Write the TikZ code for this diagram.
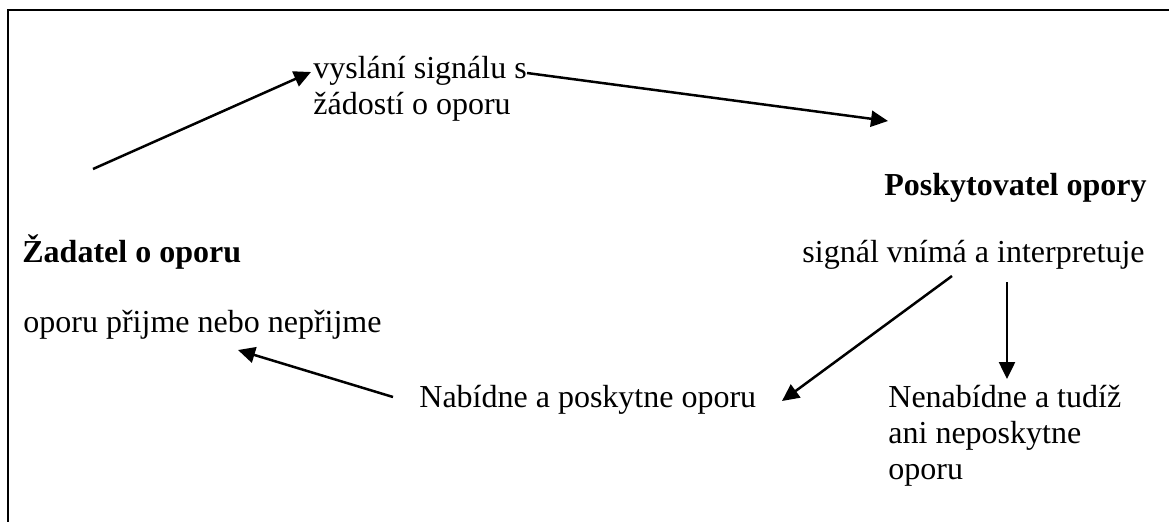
\documentclass[tikz,border=0pt]{standalone}
\usepackage{fontspec}
\setmainfont{Liberation Serif}
\usetikzlibrary{arrows.meta}
\begin{document}
\begin{tikzpicture}[x=0.5pt,y=-0.5pt,
  label text/.style={inner sep=0pt,anchor=base west,align=left,
    font=\fontsize{16pt}{18pt}\selectfont},
  head text/.style={label text,font=\fontsize{16pt}{18pt}\selectfont\bfseries},
  flow/.style={line width=1.25pt,-{Triangle[length=8.5pt,width=8pt]}},
  frame/.style={line width=1.25pt}]
\useasboundingbox (0,0) rectangle (1169,521);
% open frame round the scheme
\draw[frame] (8,540) -- (8,10) -- (1190,10);

% texts (base anchor of a multi-line node sits on its last line)
\node[label text] (signal) at (313,114) {vyslání signálu s\\žádostí o oporu};
\node[head text,anchor=base east] (provider) at (1147,195) {Poskytovatel opory};
\node[head text] (seeker) at (22,262) {Žadatel o oporu};
\node[label text,anchor=base east] (perceive) at (1145,262) {signál vnímá a interpretuje};
\node[label text] (accept) at (23,332) {oporu přijme nebo nepřijme};
\node[label text] (offer) at (419,407) {Nabídne a poskytne oporu};
\node[label text] (refuse) at (888,479) {Nenabídne a tudíž\\ani neposkytne\\oporu};

% connector end points
\coordinate (a1) at (93,169);
\coordinate (a2) at (311,72);
\coordinate (b1) at (527,73);
\coordinate (b2) at (888,121);
\coordinate (c1) at (952,276);
\coordinate (c2) at (782,401);
\coordinate (d1) at (1007,282);
\coordinate (d2) at (1007,379);
\coordinate (e1) at (393,397);
\coordinate (e2) at (238,350);

% connectors
\draw[flow] (a1) -- (a2);
\draw[flow] (b1) -- (b2);
\draw[flow] (c1) -- (c2);
\draw[flow] (d1) -- (d2);
\draw[flow] (e1) -- (e2);
\end{tikzpicture}
\end{document}
